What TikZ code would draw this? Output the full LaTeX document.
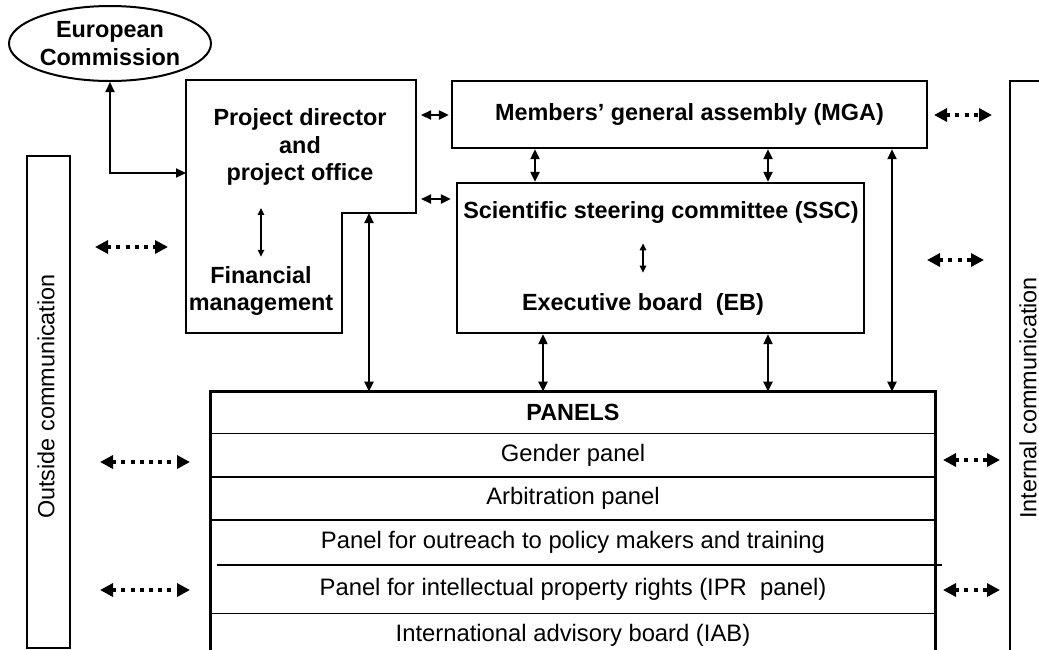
\documentclass[tikz,border=0pt]{standalone}
\usepackage{fontspec}
\setmainfont{Liberation Sans}
\usetikzlibrary{arrows.meta,positioning,shapes.geometric}

\tikzset{
  box/.style={draw, line width=1.2pt, inner sep=0pt},
  hd/.style={font=\bfseries\fontsize{11.7}{13.8}\selectfont, align=center, inner sep=0pt},
  rowtext/.style={font=\fontsize{11.9}{14}\selectfont, inner sep=0pt, minimum width=362pt},
  side/.style={font=\fontsize{11.7}{14}\selectfont, inner sep=0pt, rotate=90},
  sep/.style={line width=0.8pt},
  link/.style={line width=1.1pt, {Triangle[length=5pt,width=4.5pt]}-{Triangle[length=5pt,width=4.5pt]}},
  inlink/.style={line width=0.8pt, {Triangle[length=3.5pt,width=3.2pt]}-{Triangle[length=3.5pt,width=3.2pt]}},
  talk/.style={line width=2pt, dash pattern=on 2pt off 2.6pt, {Triangle[length=6.5pt,width=6.5pt]}-{Triangle[length=6.5pt,width=6.5pt]}}
}

\begin{document}
\begin{tikzpicture}[x=0.5pt,y=-0.5pt]
\useasboundingbox (0,0) rectangle (1039,649);

% commission and project office
\node[ellipse, draw, line width=1pt, inner sep=0pt, minimum width=101pt, minimum height=37.5pt] (ec) at (110,43.5) {};
\node[hd] at (ec.center) {European\\Commission};
\draw[box] (186,80) -- (416,80) -- (416,213) -- (342,213) -- (342,333) -- (186,333) -- cycle;
\coordinate (pdleft) at (186,173);
\coordinate (pdr1) at (416,115);
\coordinate (pdr2) at (416,199);
\coordinate (pdnotch) at (369,213);
\node[hd] (pdtext) at (300,147) {Project director\\and\\project office};
\node[hd] (fin) at (261,291) {Financial\\management};
\draw[inlink, shorten <=11pt, shorten >=4.5pt] (fin.north |- pdtext.south) -- (fin.north);

% assembly and committees
\node[box, minimum width=237.5pt, minimum height=33.5pt] (mga) at (689.5,114.5) {};
\node[hd] at (mga.center) {Members' general assembly (MGA)};
\node[box, minimum width=203.5pt, minimum height=75pt] (ssc) at (660.5,258) {};
\node[hd] (ssctext) at (661,212) {Scientific steering committee (SSC)};
\node[hd] (eb) at (643,304) {Executive board\ \ (EB)};
\draw[inlink, shorten <=10pt, shorten >=10pt] (eb.north |- ssctext.south) -- (eb.north);

% panels
\node[rowtext, minimum height=20.5pt, font=\bfseries\fontsize{11.7}{14}\selectfont] (head) at (573,412.5) {PANELS};
\node[rowtext, minimum height=21.5pt, below=0pt of head] (gender) {Gender panel};
\node[rowtext, minimum height=21pt, below=0pt of gender] (arb) {Arbitration panel};
\node[rowtext, minimum height=22pt, below=0pt of arb] (outr) {Panel for outreach to policy makers and training};
\node[rowtext, minimum height=24pt, below=0pt of outr] (ipr) {Panel for intellectual property rights (IPR\ \ panel)};
\node[rowtext, minimum height=21pt, below=0pt of ipr] (iab) {International advisory board (IAB)};
\draw[box] (head.north west) rectangle (iab.south east);
\foreach \r in {gender,arb,outr,iab}
  \draw[sep] (\r.north west) -- (\r.north east);
\draw[sep] ([xshift=3pt]ipr.north west) -- ([xshift=3.5pt]ipr.north east);

% communication columns
\node[box, minimum width=21.5pt, minimum height=246pt] (outside) at (48.5,402) {};
\node[side] at (46,396.5) {Outside communication};
\node[box, minimum width=25pt, minimum height=289.5pt] (internal) at (1035,370.5) {};
\node[side] at (1028,398) {Internal communication};

% reporting lines
\draw[link] (ec.south) |- (pdleft);
\draw[link, shorten <=2.5pt, shorten >=1pt] (pdr1) -- (pdr1 -| mga.west);
\draw[link, shorten <=2.5pt, shorten >=2.5pt] (pdr2) -- (pdr2 -| ssc.west);
\foreach \x in {535,768}
  \draw[link] (\x,0 |- mga.south) -- (\x,0 |- ssc.north);
\foreach \x in {543,768}
  \draw[link] (\x,0 |- ssc.south) -- (\x,0 |- head.north);
\draw[link] (892,0 |- mga.south) -- (892,0 |- head.north);
\draw[link] (pdnotch) -- (pdnotch |- head.north);

% communication flows
\foreach \n/\y/\a/\b in {o1/247/95/168, o2/462/100/190, o3/590/100/190,
    i1/115/934/992, i2/260/927/984, i3/460/943/1000, i4/590/943/1000}{
  \coordinate (\n a) at (\a,\y);
  \coordinate (\n b) at (\b,\y);
  \draw[talk] (\n a) -- (\n b);
}
\end{tikzpicture}
\end{document}
